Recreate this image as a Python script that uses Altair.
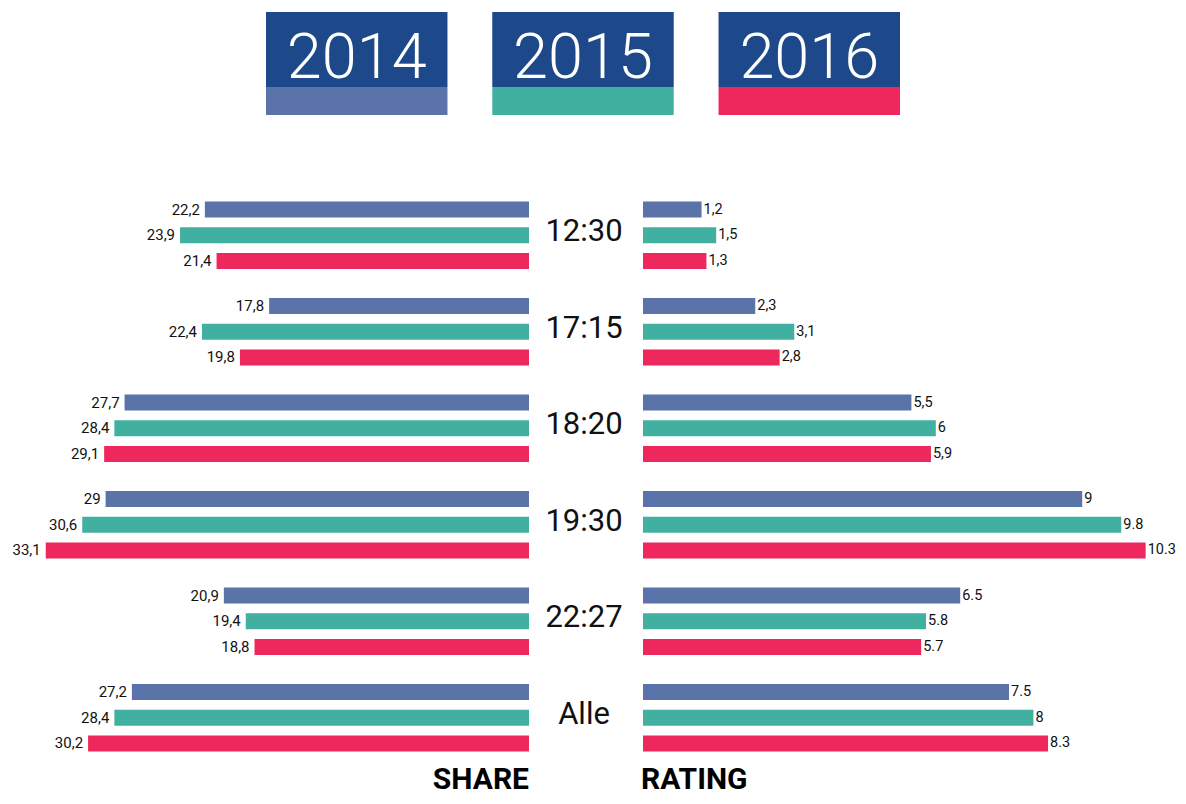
import altair as alt
import pandas as pd

times = ["12:30", "17:15", "18:20", "19:30", "22:27", "Alle"]
years = ["2014", "2015", "2016"]
colors = ["#5a73a8", "#41b0a0", "#ee275c"]
header_color = "#1d4889"

share_2014 = [22.2, 17.8, 27.7, 29.0, 20.9, 27.2]
share_2015 = [23.9, 22.4, 28.4, 30.6, 19.4, 28.4]
share_2016 = [21.4, 19.8, 29.1, 33.1, 18.8, 30.2]
share_labels_2014 = ["22,2", "17,8", "27,7", "29", "20,9", "27,2"]
share_labels_2015 = ["23,9", "22,4", "28,4", "30,6", "19,4", "28,4"]
share_labels_2016 = ["21,4", "19,8", "29,1", "33,1", "18,8", "30,2"]

rating_2014 = [1.2, 2.3, 5.5, 9.0, 6.5, 7.5]
rating_2015 = [1.5, 3.1, 6.0, 9.8, 5.8, 8.0]
rating_2016 = [1.3, 2.8, 5.9, 10.3, 5.7, 8.3]
rating_labels_2014 = ["1,2", "2,3", "5,5", "9", "6.5", "7.5"]
rating_labels_2015 = ["1,5", "3,1", "6", "9.8", "5.8", "8"]
rating_labels_2016 = ["1,3", "2,8", "5,9", "10.3", "5.7", "8.3"]

bottom_titles = ["SHARE", "RATING"]

rows = []
for yr, sv, sl, rv, rl in [
    ("2014", share_2014, share_labels_2014, rating_2014, rating_labels_2014),
    ("2015", share_2015, share_labels_2015, rating_2015, rating_labels_2015),
    ("2016", share_2016, share_labels_2016, rating_2016, rating_labels_2016),
]:
    for i, t in enumerate(times):
        rows.append({"time": t, "year": yr, "share": sv[i], "share_label": sl[i],
                     "rating": rv[i], "rating_label": rl[i]})
df = pd.DataFrame(rows)
hdr = pd.DataFrame({"year": years})
tdf = pd.DataFrame({"time": times})
bottom = pd.DataFrame({"label": bottom_titles})

FONT = "Roboto"

yscale = alt.Scale(domain=times, range=[179, 758], paddingInner=0, paddingOuter=0)
yoff_scale = alt.Scale(domain=years, paddingInner=0.377, paddingOuter=0.568)
color_scale = alt.Scale(domain=years, range=colors)
share_scale = alt.Scale(domain=[0, 40], range=[521, -63], zero=True, nice=False)
rating_scale = alt.Scale(domain=[0, 10], range=[635, 1123], zero=True, nice=False)
header_scale = alt.Scale(domain=years, range=[258, 892], paddingInner=0.198, paddingOuter=0)

Y = alt.Y("time:N", scale=yscale, axis=None)
YO = alt.YOffset("year:N", scale=yoff_scale)
C = alt.Color("year:N", scale=color_scale, legend=None)

base = alt.Chart(df)

SX = alt.X("share:Q", scale=share_scale, axis=None)
RX = alt.X("rating:Q", scale=rating_scale, axis=None)

share_layer = alt.layer(
    base.mark_bar(height=16).encode(x=SX, y=Y, yOffset=YO, color=C),
    base.mark_text(align="right", baseline="middle", dx=-5, font=FONT,
                   fontSize=15, color="#111111").encode(
        x=SX, y=Y, yOffset=YO, text="share_label:N"),
).resolve_scale(x="shared")

rating_layer = alt.layer(
    base.mark_bar(height=16).encode(x=RX, y=Y, yOffset=YO, color=C),
    base.mark_text(align="left", baseline="middle", dx=2, font=FONT,
                   fontSize=14.5, color="#111111").encode(
        x=RX, y=Y, yOffset=YO, text="rating_label:N"),
).resolve_scale(x="shared")

time_text = alt.Chart(tdf).mark_text(align="center", baseline="middle", font=FONT,
                                     fontSize=31, dy=-3, color="#111111").encode(
    x=alt.value(576), y=Y, text="time:N")

hx = alt.X("year:N", scale=header_scale, axis=None)
header_layer = alt.layer(
    alt.Chart(hdr).mark_rect(color=header_color).encode(
        x=hx, y=alt.value(4), y2=alt.value(79)),
    alt.Chart(hdr).mark_rect().encode(
        x=hx, y=alt.value(79), y2=alt.value(107), color=C),
    alt.Chart(hdr).mark_text(color="white", font=FONT, fontSize=63,
                             fontWeight=300, baseline="alphabetic").encode(
        x=hx, y=alt.value(70), text="year:N"),
).resolve_scale(x="shared")

share_title = alt.Chart(bottom).transform_filter(alt.datum.label == "SHARE").mark_text(
    align="right", baseline="alphabetic", font=FONT, fontSize=30, fontWeight="bold",
    color="#000000").encode(x=alt.value(521), y=alt.value(781), text="label:N")
rating_title = alt.Chart(bottom).transform_filter(alt.datum.label == "RATING").mark_text(
    align="left", baseline="alphabetic", font=FONT, fontSize=30, fontWeight="bold",
    color="#000000").encode(x=alt.value(633), y=alt.value(781), text="label:N")

chart = alt.layer(
    share_layer, rating_layer, time_text, header_layer, share_title, rating_title
).resolve_scale(x="independent").properties(
    width=1170, height=788, autosize=alt.AutoSizeParams(type="none"), padding=0
).configure_view(stroke=None)

chart.save("out.html", embed_options={"renderer": "svg", "actions": False})
